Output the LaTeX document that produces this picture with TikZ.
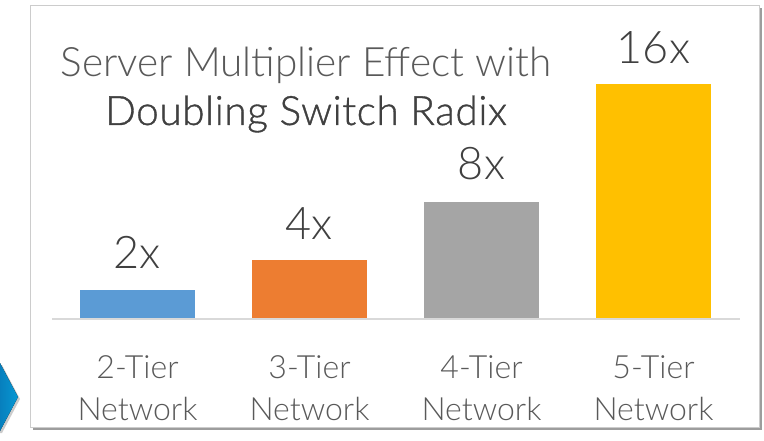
\documentclass[tikz,border=0pt]{standalone}
\usepackage{fontspec}
\setmainfont{Lato}[UprightFont={* Light}]
\newfontfamily\latomid{Lato}[UprightFont={* Light}, FakeBold=0.9, LetterSpace=1.5]
\usetikzlibrary{shadows}
\definecolor{txtgray}{HTML}{595959}
\definecolor{txtdark}{HTML}{404040}
\definecolor{barblue}{HTML}{5B9BD5}
\definecolor{barorange}{HTML}{ED7D31}
\definecolor{bargray}{HTML}{A5A5A5}
\definecolor{baryellow}{HTML}{FFC000}
\definecolor{axisgray}{HTML}{D9D9D9}
\definecolor{arrowblue}{HTML}{0A6CC0}
\tikzset{
  valuelabel/.style={anchor=base, text=txtdark, font=\fontsize{45}{45}\selectfont, inner sep=0pt},
  catlabel/.style={anchor=base, text=txtgray, font=\fontsize{32}{42}\selectfont, inner sep=0pt, align=center},
  titleline/.style={anchor=base, inner sep=0pt},
}
\begin{document}
\begin{tikzpicture}[x=1pt, y=-1pt]
  \useasboundingbox (0,0) rectangle (764,441);
  % chevron peeking in from the left
  \fill[left color=arrowblue!80!black, right color=arrowblue!70!cyan, drop shadow={shadow xshift=2pt, shadow yshift=-2pt, opacity=0.4}]
    (-30,363) -- (0,363) -- (18,397) -- (0,431) -- (-30,431) -- cycle;
  % card
  \node[draw=gray!40, fill=white, minimum width=729pt, minimum height=422pt, anchor=north west, inner sep=0pt,
        drop shadow={shadow xshift=3pt, shadow yshift=-3pt, opacity=0.55, fill=black!70}] (card) at (30,5) {};
  % title
  \node[titleline, text=txtgray, font=\fontsize{40.5}{40.5}\selectfont] (t1) at (306,77) {Server Multiplier Effect with};
  \node[titleline, text=txtdark, font=\latomid\fontsize{40.5}{40.5}\selectfont] (t2) at (306,125) {Doubling Switch Radix};
  % bars
  \fill[barblue]   (80,290)  rectangle (195,318);
  \fill[barorange] (252,260) rectangle (367,318);
  \fill[bargray]   (424,202) rectangle (539,318);
  \fill[baryellow] (596,84)  rectangle (711,318);
  % axis
  \coordinate (axl) at (52,319);
  \coordinate (axr) at (740,319);
  \draw[axisgray, line width=1.2pt] (axl) -- (axr);
  % values
  \node[valuelabel] (v2)  at (137.5,269) {2x};
  \node[valuelabel] (v4)  at (309.5,240) {4x};
  \node[valuelabel] (v8)  at (481.5,180) {8x};
  \node[valuelabel] (v16) at (653.5,64)  {16x};
  % categories
  \node[catlabel] (c2) at (137.5,420) {2-Tier\\Network};
  \node[catlabel] (c3) at (309.5,420) {3-Tier\\Network};
  \node[catlabel] (c4) at (481.5,420) {4-Tier\\Network};
  \node[catlabel] (c5) at (653.5,420) {5-Tier\\Network};
\end{tikzpicture}
\end{document}
